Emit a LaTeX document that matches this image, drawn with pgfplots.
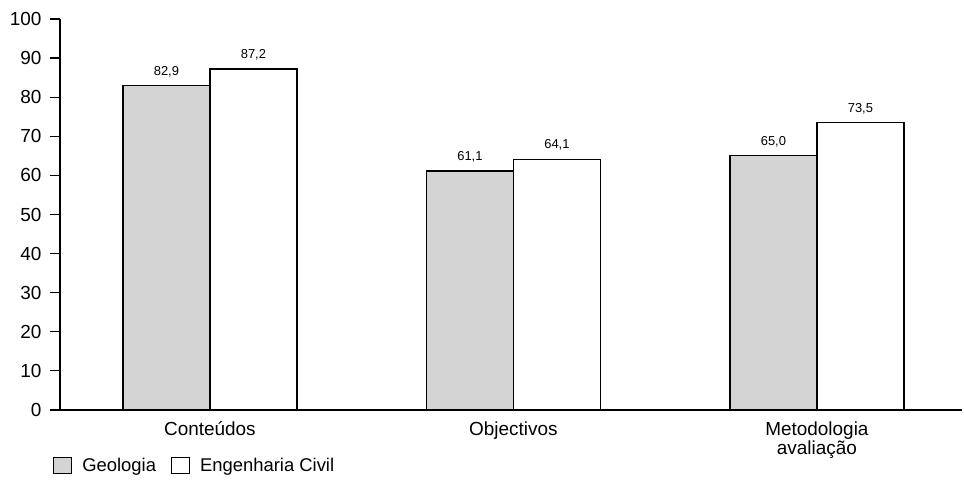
\documentclass[border=0pt]{standalone}
\usepackage{fontspec}
\setmainfont{Liberation Sans}
\usepackage{pgfplots}
\pgfplotsset{compat=1.18}

\definecolor{geogray}{HTML}{D4D4D4}

\begin{document}
\begin{tikzpicture}
\useasboundingbox (0,0) rectangle (964bp,482bp);
\begin{axis}[
    at={(60bp,72bp)},
    anchor=south west,
    scale only axis,
    width=902bp,
    height=391bp,
    ybar=0pt,
    bar width=87bp,
    xmin=-0.494, xmax=2.478,
    ymin=0, ymax=100,
    ytick={0,10,20,30,40,50,60,70,80,90,100},
    yticklabels={0,10,20,30,40,50,60,70,80,90,100},
    xtick=data,
    xticklabels={Conteúdos,Objectivos,{Metodologia\\avaliação}},
    axis x line*=bottom,
    axis y line*=left,
    axis line style={line width=1.2bp},
    tick align=outside,
    major tick length=10bp,
    ytick style={line width=1.2bp, black},
    xtick style={draw=none},
    tick label style={font=\fontsize{19}{19}\selectfont},
    x tick label style={align=center, yshift=2bp},
    y tick label style={font=\fontsize{19}{20}\selectfont, xshift=-5bp},
    nodes near coords,
    nodes near coords style={font=\fontsize{13}{14}\selectfont, yshift=5bp,
        /pgf/number format/use comma,
        /pgf/number format/fixed,
        /pgf/number format/fixed zerofill,
        /pgf/number format/precision=1,
        /pgf/number format/assume math mode=true},
    legend columns=2,
    legend style={draw=none, fill=none, at={(-0.011,-0.112)}, anchor=north west,
        font=\fontsize{18.5}{19}\selectfont,
        /tikz/every odd column/.append style={column sep=8bp},
        /tikz/every even column/.append style={column sep=13bp}},
    legend image code/.code={\draw[#1, line width=1bp] (0bp,-8bp) rectangle (18bp,8bp);},
]
\addplot[draw=black, line width=1.2bp, fill=geogray] coordinates {(0,82.9) (1,61.1) (2,65.0)};
\addplot[draw=black, line width=1.2bp, fill=white] coordinates {(0,87.2) (1,64.1) (2,73.5)};
\legend{Geologia, Engenharia Civil}
\end{axis}
\end{tikzpicture}
\end{document}
